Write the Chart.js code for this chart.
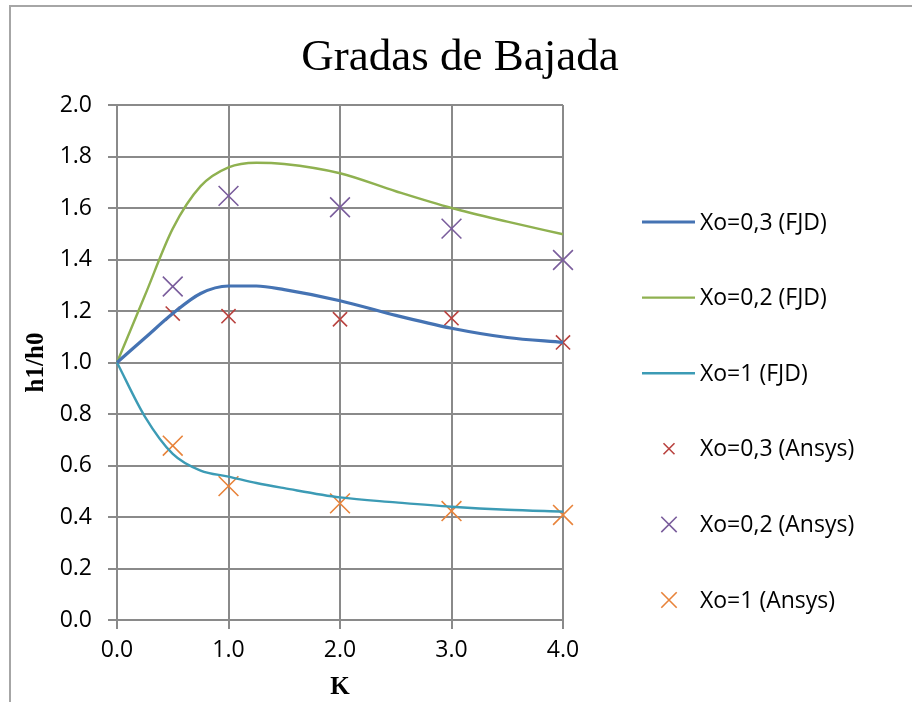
<!DOCTYPE html>
<html>
<head>
<meta charset="utf-8">
<script src="https://cdn.jsdelivr.net/npm/chart.js@4/dist/chart.umd.min.js"></script>
<style>
  body { margin: 0; background: #fff; overflow: hidden; }
  #marco { position: absolute; left: 9px; top: 5px; width: 1000px; height: 1000px; border: 2px solid #a6a6a6; }
  #wrap { position: absolute; left: 0; top: 0; width: 912px; height: 702px; }
</style>
</head>
<body>
<div id="marco"></div>
<div id="wrap"><canvas id="grafico" width="912" height="702"></canvas></div>
<script>
// Dados
const kCurva = [0, 0.25, 0.5, 0.75, 1.0, 1.25, 1.5, 2.0, 2.5, 3.0, 3.5, 4.0];
const xo03FJD = [1.0, 1.095, 1.19, 1.268, 1.297, 1.297, 1.283, 1.24, 1.183, 1.133, 1.097, 1.078];
const xo02FJD = [1.0, 1.26, 1.52, 1.685, 1.758, 1.776, 1.771, 1.735, 1.665, 1.6, 1.547, 1.498];
const xo1FJD  = [1.0, 0.79, 0.645, 0.58, 0.557, 0.532, 0.512, 0.476, 0.457, 0.44, 0.428, 0.421];

const kAnsys = [0.5, 1, 2, 3, 4];
const xo03Ansys = [1.19, 1.18, 1.168, 1.172, 1.078];
const xo02Ansys = [1.295, 1.647, 1.603, 1.52, 1.398];
const xo1Ansys  = [0.677, 0.52, 0.453, 0.423, 0.408];

const ticksX = [0, 1, 2, 3, 4];
const titulo = 'Gradas de Bajada';

const pares = (xs, ys) => xs.map((x, i) => ({ x: x, y: ys[i] }));

function serieLinha(label, dados, cor, largura) {
  return {
    label: label, data: pares(kCurva, dados), showLine: true,
    borderColor: cor, backgroundColor: cor, borderWidth: largura,
    pointRadius: 0, cubicInterpolationMode: 'monotone', clip: false
  };
}

function serieCruz(label, dados, cor, raio) {
  return {
    label: label, data: pares(kAnsys, dados), showLine: false,
    pointStyle: 'crossRot', pointRadius: raio, borderColor: cor,
    backgroundColor: cor, pointBorderWidth: 1.6, clip: false
  };
}

const series = [
  serieLinha('Xo=0,3 (FJD)', xo03FJD, '#4573b3', 3.2),
  serieLinha('Xo=0,2 (FJD)', xo02FJD, '#8fb150', 2.4),
  serieLinha('Xo=1 (FJD)', xo1FJD, '#3c9bb5', 2.4),
  serieCruz('Xo=0,3 (Ansys)', xo03Ansys, '#b9423f', 10),
  serieCruz('Xo=0,2 (Ansys)', xo02Ansys, '#7a5d9c', 14),
  serieCruz('Xo=1 (Ansys)', xo1Ansys, '#e8833a', 14)
];

// legenda e título desenhados à mão
const extras = {
  id: 'extras',
  afterDraw(chart) {
    const ctx = chart.ctx;
    ctx.save();
    ctx.fillStyle = '#000';
    ctx.font = '45px "Liberation Serif"';
    ctx.textAlign = 'center';
    ctx.textBaseline = 'alphabetic';
    ctx.fillText(titulo, 460, 70);

    ctx.font = '23px "Open Sans"';
    ctx.textAlign = 'left';
    ctx.textBaseline = 'middle';
    chart.data.datasets.forEach((ds, i) => {
      const y = 222 + i * 75.6;
      ctx.strokeStyle = ds.borderColor;
      if (ds.showLine) {
        ctx.lineWidth = ds.borderWidth;
        ctx.beginPath();
        ctx.moveTo(642, y);
        ctx.lineTo(695, y);
        ctx.stroke();
      } else {
        const r = ds.pointRadius * 0.55;
        ctx.lineWidth = 1.6;
        ctx.beginPath();
        ctx.moveTo(669 - r, y - r); ctx.lineTo(669 + r, y + r);
        ctx.moveTo(669 + r, y - r); ctx.lineTo(669 - r, y + r);
        ctx.stroke();
      }
      ctx.fillStyle = '#000';
      ctx.fillText(ds.label, 700, y + 1);
    });
    ctx.restore();
  }
};

const corGrade = '#8a8a8a';

new Chart(document.getElementById('grafico').getContext('2d'), {
  type: 'scatter',
  data: { datasets: series },
  options: {
    responsive: false,
    animation: false,
    layout: { padding: { left: 0, top: 105, right: 349, bottom: 0 } },
    plugins: { legend: { display: false }, tooltip: { enabled: false } },
    scales: {
      x: {
        type: 'linear', min: 0, max: 4,
        afterBuildTicks: (axis) => { axis.ticks = ticksX.map(v => ({ value: v })); },
        afterFit: (axis) => { axis.height = 82; },
        grid: { color: corGrade, lineWidth: 2, tickLength: 9 },
        border: { color: corGrade, width: 2 },
        ticks: { padding: 8, color: '#000', font: { family: 'Open Sans', size: 23 },
                 callback: (v) => Number(v).toFixed(1) },
        title: { display: true, text: 'K', color: '#000', padding: { top: 0, bottom: 2 },
                 font: { family: 'Liberation Serif', size: 25, weight: 'bold', lineHeight: 1 } }
      },
      y: {
        min: 0, max: 2,
        afterFit: (axis) => { axis.width = 117; },
        grid: { color: corGrade, lineWidth: 2, tickLength: 9 },
        border: { color: corGrade, width: 2 },
        ticks: { stepSize: 0.2, padding: 16, color: '#000', font: { family: 'Open Sans', size: 23 },
                 callback: (v) => Number(v).toFixed(1) },
        title: { display: true, text: 'h1/h0', color: '#000', padding: { top: 24, bottom: 0 },
                 font: { family: 'Liberation Serif', size: 25, weight: 'bold', lineHeight: 1 } }
      }
    }
  },
  plugins: [extras]
});
</script>
</body>
</html>
